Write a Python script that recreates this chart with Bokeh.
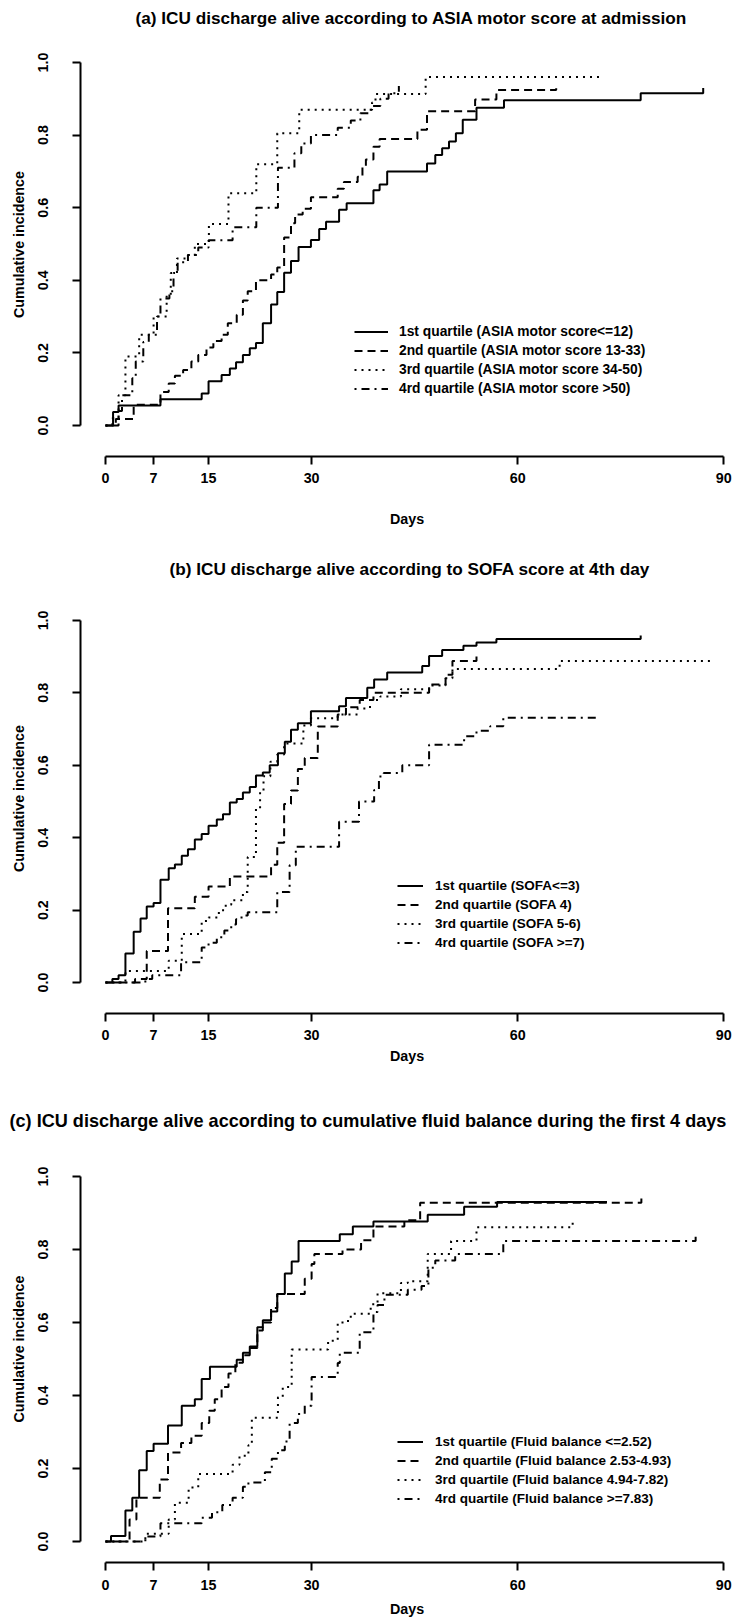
from bokeh.plotting import figure
from bokeh.models import (Range1d, LinearAxis, FixedTicker, PrintfTickFormatter,
                          Title, Legend, LegendItem)
from bokeh.layouts import column
from bokeh.embed import file_html
from bokeh.resources import INLINE

FONT = "Liberation Sans"

DAY_TICKS = [0, 7, 15, 30, 60, 90]
INC_TICKS = [0.0, 0.2, 0.4, 0.6, 0.8, 1.0]

TITLE_A = "(a) ICU discharge alive according to ASIA motor score at admission"
TITLE_B = "(b) ICU discharge alive according to SOFA score at 4th day"
TITLE_C = "(c) ICU discharge alive according to cumulative fluid balance during the first 4 days"

A_LABELS = ["1st quartile (ASIA motor score<=12)", "2nd quartile (ASIA motor score 13-33)",
            "3rd quartile (ASIA motor score 34-50)", "4rd quartile (ASIA motor score >50)"]
B_LABELS = ["1st quartile (SOFA<=3)", "2nd quartile (SOFA 4)",
            "3rd quartile (SOFA 5-6)", "4rd quartile (SOFA >=7)"]
C_LABELS = ["1st quartile (Fluid balance <=2.52)", "2nd quartile (Fluid balance 2.53-4.93)",
            "3rd quartile (Fluid balance 4.94-7.82)", "4rd quartile (Fluid balance >=7.83)"]

# ---- panel (a): ASIA motor score ----
A1_T = [0, 1.1, 1.9, 8.0, 14.0, 15.0, 16.9, 18.1, 19.0, 20.0, 21.0, 21.9, 22.9, 24.1, 25.0, 26.0, 27.0, 28.1, 29.9, 31.1, 32.1, 34.0, 35.1, 39.0, 39.9, 41.0, 46.8, 48.0, 49.0, 50.0, 51.0, 52.0, 54.0, 58.0, 77.9, 87.0]
A1_V = [0, 0.037, 0.055, 0.072, 0.088, 0.122, 0.139, 0.157, 0.174, 0.194, 0.213, 0.227, 0.282, 0.333, 0.368, 0.421, 0.453, 0.492, 0.511, 0.541, 0.561, 0.594, 0.612, 0.648, 0.664, 0.700, 0.722, 0.745, 0.764, 0.782, 0.805, 0.842, 0.875, 0.896, 0.915, 0.930]
A2_T = [0, 1.5, 4.1, 8.0, 9.2, 10.1, 11.3, 12.5, 13.5, 14.7, 15.7, 16.9, 17.8, 19.1, 20.0, 20.7, 21.9, 24.1, 25.0, 26.0, 27.0, 27.6, 28.7, 29.9, 33.8, 34.7, 36.7, 37.4, 37.9, 39.0, 39.9, 45.4, 46.8, 53.8, 56.9, 65.6]
A2_V = [0, 0.018, 0.057, 0.092, 0.116, 0.137, 0.153, 0.176, 0.194, 0.215, 0.233, 0.250, 0.282, 0.305, 0.344, 0.370, 0.400, 0.416, 0.435, 0.518, 0.557, 0.581, 0.597, 0.629, 0.652, 0.671, 0.685, 0.712, 0.733, 0.768, 0.789, 0.815, 0.866, 0.898, 0.924, 0.940]
A3_T = [0, 1.0, 1.9, 2.9, 4.9, 7.0, 8.9, 9.5, 10.4, 12.0, 13.0, 15.05, 17.9, 21.95, 25.0, 28.2, 38.8, 39.3, 46.6, 72.2]
A3_V = [0, 0.020, 0.083, 0.190, 0.250, 0.300, 0.360, 0.420, 0.460, 0.470, 0.500, 0.555, 0.640, 0.720, 0.805, 0.870, 0.890, 0.913, 0.960, 0.960]
A4_T = [0, 1.9, 2.4, 3.9, 4.4, 5.5, 6.3, 7.5, 8.0, 9.3, 9.9, 10.5, 12.0, 13.5, 15.0, 18.5, 21.95, 25.1, 27.5, 28.5, 29.9, 33.8, 35.7, 37.1, 38.6, 40.0, 41.2, 42.7]
A4_V = [0, 0.040, 0.083, 0.130, 0.176, 0.230, 0.250, 0.300, 0.350, 0.370, 0.420, 0.450, 0.470, 0.490, 0.510, 0.546, 0.600, 0.710, 0.750, 0.777, 0.800, 0.820, 0.840, 0.860, 0.880, 0.900, 0.915, 0.935]

# ---- panel (b): SOFA score ----
B1_T = [0, 1.0, 1.9, 2.9, 4.1, 5.1, 6.0, 7.0, 8.0, 9.2, 10.1, 11.1, 12.0, 13.0, 14.0, 15.0, 16.2, 17.1, 18.1, 19.1, 20.0, 21.0, 21.9, 22.9, 23.9, 25.1, 26.1, 27.0, 28.0, 29.9, 34.0, 35.0, 38.1, 39.1, 41.0, 46.1, 47.1, 49.0, 52.1, 54.0, 56.9, 77.9]
B1_V = [0, 0.010, 0.020, 0.080, 0.140, 0.177, 0.210, 0.220, 0.284, 0.316, 0.326, 0.350, 0.368, 0.395, 0.410, 0.433, 0.450, 0.465, 0.497, 0.507, 0.525, 0.540, 0.572, 0.580, 0.600, 0.633, 0.665, 0.698, 0.716, 0.749, 0.763, 0.786, 0.814, 0.837, 0.856, 0.874, 0.902, 0.918, 0.930, 0.939, 0.949, 0.958]
B2_T = [0, 4.3, 6.0, 9.1, 13.0, 15.0, 18.1, 24.1, 25.0, 26.0, 27.0, 28.0, 29.0, 30.9, 33.8, 35.0, 37.0, 39.0, 47.1, 49.5, 50.5, 54.0]
B2_V = [0, 0.010, 0.087, 0.205, 0.237, 0.265, 0.293, 0.325, 0.386, 0.493, 0.530, 0.590, 0.620, 0.707, 0.740, 0.760, 0.780, 0.800, 0.823, 0.850, 0.888, 0.911]
B3_T = [0, 2.9, 9.2, 11.1, 14.0, 15.0, 16.5, 17.5, 18.3, 20.0, 20.7, 21.9, 22.5, 23.0, 24.0, 25.0, 26.0, 28.8, 29.9, 33.8, 36.7, 38.5, 40.0, 43.0, 47.3, 49.5, 50.5, 66.1, 88.0]
B3_V = [0, 0.032, 0.060, 0.134, 0.170, 0.180, 0.200, 0.215, 0.227, 0.250, 0.347, 0.480, 0.530, 0.570, 0.610, 0.630, 0.660, 0.710, 0.730, 0.740, 0.757, 0.780, 0.790, 0.810, 0.820, 0.840, 0.866, 0.888, 0.897]
B4_T = [0, 5.8, 6.8, 11.0, 14.0, 15.0, 16.2, 17.3, 18.3, 19.0, 19.8, 20.7, 25.0, 26.8, 27.7, 34.0, 36.9, 39.1, 39.8, 40.5, 43.2, 47.1, 52.2, 54.0, 56.0, 57.9, 71.5]
B4_V = [0, 0.010, 0.020, 0.056, 0.097, 0.110, 0.125, 0.144, 0.160, 0.175, 0.185, 0.194, 0.250, 0.324, 0.375, 0.444, 0.500, 0.532, 0.569, 0.579, 0.600, 0.657, 0.680, 0.695, 0.708, 0.731, 0.731]

# ---- panel (c): cumulative fluid balance ----
C1_T = [0, 0.8, 2.9, 3.9, 4.9, 6.0, 7.0, 9.1, 11.1, 13.0, 14.0, 15.2, 19.1, 20.0, 21.0, 22.1, 22.9, 24.1, 25.0, 26.1, 27.1, 28.1, 34.1, 36.0, 39.0, 46.9, 52.2, 57.0, 73.0]
C1_V = [0, 0.015, 0.085, 0.120, 0.195, 0.248, 0.268, 0.318, 0.372, 0.390, 0.445, 0.479, 0.498, 0.517, 0.534, 0.587, 0.606, 0.630, 0.678, 0.734, 0.767, 0.823, 0.842, 0.863, 0.877, 0.895, 0.917, 0.930, 0.930]
C2_T = [0, 3.5, 4.5, 7.9, 9.1, 11.0, 12.5, 14.0, 15.1, 15.9, 16.9, 17.9, 18.9, 20.0, 21.0, 22.1, 22.9, 24.1, 25.0, 29.0, 30.0, 30.4, 34.5, 37.2, 39.0, 43.5, 45.8, 78.0]
C2_V = [0, 0.060, 0.120, 0.170, 0.244, 0.270, 0.290, 0.325, 0.358, 0.390, 0.423, 0.460, 0.490, 0.510, 0.530, 0.578, 0.600, 0.640, 0.678, 0.720, 0.760, 0.788, 0.800, 0.825, 0.863, 0.880, 0.928, 0.945]
C3_T = [0, 5.8, 9.2, 10.1, 12.1, 13.5, 18.5, 19.5, 20.8, 21.3, 25.1, 25.8, 27.1, 32.4, 33.8, 35.3, 35.7, 38.6, 39.6, 43.0, 44.0, 46.9, 50.3, 54.0, 68.0]
C3_V = [0, 0.021, 0.060, 0.106, 0.148, 0.185, 0.210, 0.235, 0.264, 0.339, 0.395, 0.423, 0.526, 0.550, 0.600, 0.610, 0.624, 0.650, 0.680, 0.708, 0.713, 0.788, 0.823, 0.861, 0.877]
C4_T = [0, 5.8, 8.0, 14.0, 15.5, 17.0, 18.5, 20.0, 20.8, 23.2, 24.2, 25.1, 26.1, 26.8, 28.0, 29.0, 30.0, 33.8, 34.1, 37.0, 39.0, 39.6, 40.6, 44.0, 46.0, 47.0, 48.0, 50.9, 57.9, 85.9]
C4_V = [0, 0.014, 0.050, 0.065, 0.080, 0.100, 0.120, 0.150, 0.162, 0.190, 0.227, 0.250, 0.274, 0.325, 0.349, 0.372, 0.451, 0.489, 0.517, 0.573, 0.629, 0.648, 0.676, 0.690, 0.700, 0.750, 0.770, 0.788, 0.823, 0.837]

DASHES = ["solid", "8 5", "2 5", "2 5 8 5"]

FRAME_LEFT = 80
FRAME_TOP = 32
X_START, X_END = -3.64, 91.41


def style_axis(ax, lab_standoff, title_standoff):
    ax.axis_line_width = 2
    ax.axis_line_color = "black"
    ax.major_tick_line_width = 2
    ax.major_tick_line_color = "black"
    ax.major_tick_out = 8
    ax.major_tick_in = 0
    ax.minor_tick_out = 0
    ax.minor_tick_in = 0
    ax.major_label_text_font = FONT
    ax.major_label_text_font_style = "bold"
    ax.major_label_text_font_size = "14.3px"
    ax.major_label_text_color = "black"
    ax.major_label_standoff = lab_standoff
    ax.axis_label_text_font = FONT
    ax.axis_label_text_font_style = "bold"
    ax.axis_label_text_font_size = "14.3px"
    ax.axis_label_text_color = "black"
    ax.axis_label_standoff = title_standoff


def make_panel(title, title_size, title_offset, height, frame_bottom, y_range,
               x_std, series, labels, leg_xy, glyph_w, leg_standoff, leg_size):
    t = Title(text=title, align="left", offset=title_offset, standoff=10,
              vertical_align="bottom", text_font=FONT, text_font_style="bold",
              text_font_size=title_size, text_color="black")
    p = figure(width=733, height=height, title=t,
               x_range=Range1d(X_START, X_END), y_range=Range1d(*y_range),
               x_axis_type=None, y_axis_type=None,
               output_backend="svg", toolbar_location=None,
               min_border_left=FRAME_LEFT, min_border_right=0,
               min_border_top=FRAME_TOP, min_border_bottom=height - frame_bottom)
    p.outline_line_color = None
    p.background_fill_color = "white"
    p.border_fill_color = "white"

    xa = LinearAxis(ticker=FixedTicker(ticks=DAY_TICKS), bounds=(0, 90), axis_label="Days")
    style_axis(xa, x_std[0], x_std[1])
    p.add_layout(xa, "below")

    ya = LinearAxis(ticker=FixedTicker(ticks=INC_TICKS), bounds=(0, 1),
                    formatter=PrintfTickFormatter(format="%.1f"),
                    axis_label="Cumulative incidence")
    ya.major_label_orientation = "parallel"
    style_axis(ya, 24, 9)
    p.add_layout(ya, "left")

    items = []
    for (tt, vv), dash, lab in zip(series, DASHES, labels):
        r = p.step(tt, vv, mode="after", line_color="black", line_width=2, line_dash=dash)
        items.append(LegendItem(label=lab, renderers=[r]))

    leg = Legend(items=items, location=leg_xy, orientation="vertical",
                 border_line_color=None, background_fill_alpha=0,
                 glyph_width=glyph_w, glyph_height=19, label_height=19,
                 label_standoff=leg_standoff, spacing=0, padding=0, margin=0,
                 label_text_font=FONT, label_text_font_style="bold",
                 label_text_font_size=leg_size, label_text_color="black")
    p.add_layout(leg)
    return p


# panel (a): 1.0 at 62 px, 0.0 at 425 px, axis line at 456 px (363 px per unit)
pa = make_panel(TITLE_A, "17.2px", 55, 551, 456, (-0.0854, 1.0826), (8, 25),
                [(A1_T, A1_V), (A2_T, A2_V), (A3_T, A3_V), (A4_T, A4_V)],
                A_LABELS, (274, 58), 34, 11, "13.8px")
# panel (b): local 1.0 at 69, 0.0 at 431, axis at 462
pb = make_panel(TITLE_B, "17.2px", 89, 552, 462, (-0.0854, 1.1019), (8, 5),
                [(B1_T, B1_V), (B2_T, B2_V), (B3_T, B3_V), (B4_T, B4_V)],
                B_LABELS, (317, 61), 26, 12, "13.5px")
# panel (c): local 1.0 at 73, 0.0 at 438, axis at 459 (365 px per unit)
pc = make_panel(TITLE_C, "18.1px", -71, 518, 459, (-0.0575, 1.1123), (9, 8),
                [(C1_T, C1_V), (C2_T, C2_V), (C3_T, C3_V), (C4_T, C4_V)],
                C_LABELS, (317, 54), 26, 12, "13.5px")

layout = column(pa, pb, pc, spacing=0)
open("out.html", "w").write(file_html(layout, INLINE))
